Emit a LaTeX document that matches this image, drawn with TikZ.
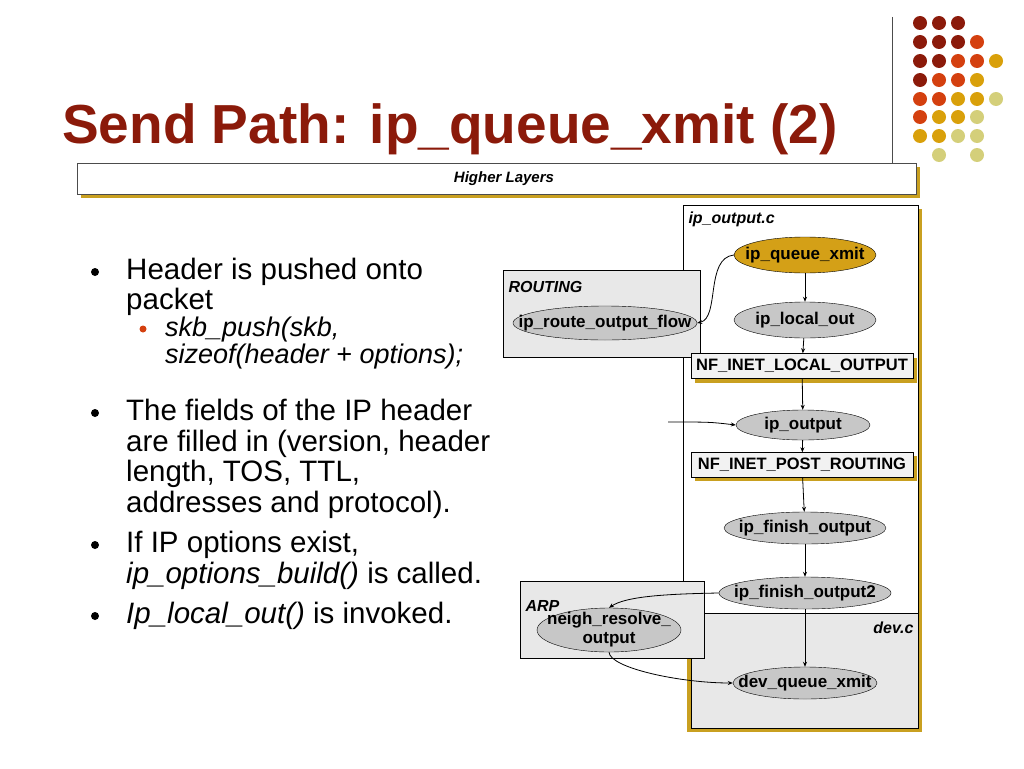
\documentclass[tikz,border=0pt]{standalone}
\usepackage{fontspec}
\setmainfont{Liberation Sans}
\usetikzlibrary{shapes.geometric,arrows.meta}
\definecolor{dk}{HTML}{8B1A0A}
\definecolor{rd}{HTML}{D4400F}
\definecolor{gd}{HTML}{D9A00A}
\definecolor{pl}{HTML}{D4CF7A}
\definecolor{sh}{HTML}{C9A020}
\definecolor{qx}{HTML}{D4A017}
\tikzset{
  el/.style={ellipse,draw,fill=black!22,inner xsep=-30pt,inner ysep=-6pt,font=\fontsize{17}{18}\selectfont\bfseries},
  bx/.style={draw,fill=black!9},
  hook/.style={draw,fill=black!5,minimum width=222,minimum height=25,inner sep=0pt,font=\fontsize{16.5}{18}\selectfont\bfseries},
  arr/.style={-{Stealth[length=5pt,width=4pt]},thick},
  bl/.style={anchor=base west,inner sep=0pt,font=\fontsize{29.5}{32}\selectfont},
  sbl/.style={anchor=base west,inner sep=0pt,font=\fontsize{27}{28}\selectfont\itshape},
  dot/.style={circle,inner sep=0pt,minimum size=14}
}
\begin{document}
\begin{tikzpicture}[x=1pt,y=-1pt]
\useasboundingbox (0,0) rectangle (1024,768);
% decoration dots
\foreach \c/\x/\y in {dk/920/23,dk/939/23,dk/958/23,
 dk/920/42,dk/939/42,dk/958/42,rd/977/42,
 dk/920/61,dk/939/61,rd/958/61,rd/977/61,gd/996/61,
 dk/920/80,rd/939/80,rd/958/80,gd/977/80,
 rd/920/99,rd/939/99,gd/958/99,gd/977/99,pl/996/99,
 rd/920/117,gd/939/117,gd/958/117,pl/977/117,
 gd/920/136,gd/939/136,pl/958/136,pl/977/136,
 pl/939/155,pl/977/155}
 \node[dot,fill=\c] at (\x,\y) {};
\draw[black!70] (892,17) -- (892,163);
% title
\node[anchor=base west,inner sep=0pt,text=dk,font=\fontsize{55}{60}\selectfont\bfseries] (title) at (62,143) {Send Path: ip\_queue\_xmit (2)};
% header bar
\fill[sh] (81,167) rectangle (920,198);
\draw[fill=white,draw=black!70] (77,163) rectangle (916,194);
\node[font=\fontsize{15}{16}\selectfont\bfseries\itshape] (hl) at (504,179) {Higher Layers};
% bullets
\foreach \y in {272,413,545,616} \fill (95,\y) circle (4);
\fill[rd] (143,329) circle (3.5);
\node[bl] (b1) at (126,279) {Header is pushed onto};
\node[bl] (b1b) at (126,309) {packet};
\node[sbl] (s1) at (165,336) {skb\_push(skb,};
\node[sbl] (s1b) at (165,363) {sizeof(header + options);};
\node[bl] (b2) at (126,420) {The fields of the IP header};
\node[bl] (b2b) at (126,451) {are filled in (version, header};
\node[bl] (b2c) at (126,481) {length, TOS, TTL,};
\node[bl] (b2d) at (126,512) {addresses and protocol).};
\node[bl] (b3) at (126,552) {If IP options exist,};
\node[bl] (b3b) at (126,583) {\textit{ip\_options\_build()} is called.};
\node[bl] (b4) at (126,623) {\textit{Ip\_local\_out()} is invoked.};
% diagram boxes
\fill[sh] (687,209) rectangle (922,732);
\draw[fill=white] (683,205) rectangle (918,613);
\draw[bx] (691,613) rectangle (918,728);
\draw[bx] (503,270) rectangle (700,357);
\draw[bx] (520,581) rectangle (704,658);
\node[anchor=west,font=\fontsize{16}{18}\selectfont\bfseries\itshape] (fc) at (685,219) {ip\_output.c};
\node[anchor=west,font=\fontsize{16}{18}\selectfont\bfseries\itshape] (rt) at (505,287) {ROUTING};
\node[anchor=west,font=\fontsize{16}{18}\selectfont\bfseries\itshape] (arpl) at (522,606) {ARP};
\node[anchor=east,font=\fontsize{16}{18}\selectfont\bfseries\itshape] (dc) at (917,628) {dev.c};
% nodes
\node[el,fill=qx,minimum width=142,minimum height=36] (q) at (805,255) {ip\_queue\_xmit};
\node[el,minimum width=184,minimum height=34] (rf) at (605,323) {ip\_route\_output\_flow};
\node[el,minimum width=142,minimum height=36] (lo) at (805,320) {ip\_local\_out};
\fill[sh] (695,358) rectangle (917,383);
\node[hook] (nl) at (802,366) {NF\_INET\_LOCAL\_OUTPUT};
\node[el,minimum width=134,minimum height=30] (io) at (803,425) {ip\_output};
\fill[sh] (695,456) rectangle (917,481);
\node[hook] (np) at (802,465) {NF\_INET\_POST\_ROUTING};
\node[el,minimum width=162,minimum height=32] (fo) at (805,528) {ip\_finish\_output};
\node[el,minimum width=172,minimum height=32] (f2) at (805,593) {ip\_finish\_output2};
\node[el,minimum width=144,minimum height=44,align=center,font=\fontsize{17}{19}\selectfont\bfseries] (nr) at (609,630) {neigh\_resolve\_\\output};
\node[el,minimum width=144,minimum height=32] (dq) at (805,683) {dev\_queue\_xmit};
\coordinate (in) at (668,422);
% connectors
\draw[arr] (q.west) .. controls (705,258) and (720,318) .. (rf.east);
\draw[arr] (q) -- (lo);
\draw[arr] (lo) -- (nl);
\draw[arr] (nl) -- (io);
\draw[arr] (in) .. controls (710,422) .. (io.west);
\draw[arr] (io) -- (np);
\draw[arr] (np) -- (fo);
\draw[arr] (fo) -- (f2);
\draw[arr] (f2.west) .. controls (660,594) and (625,597) .. (nr.north);
\draw[arr] (f2) -- (dq);
\draw[arr] (nr.south) .. controls (610,668) and (680,683) .. (dq.west);
\end{tikzpicture}
\end{document}
